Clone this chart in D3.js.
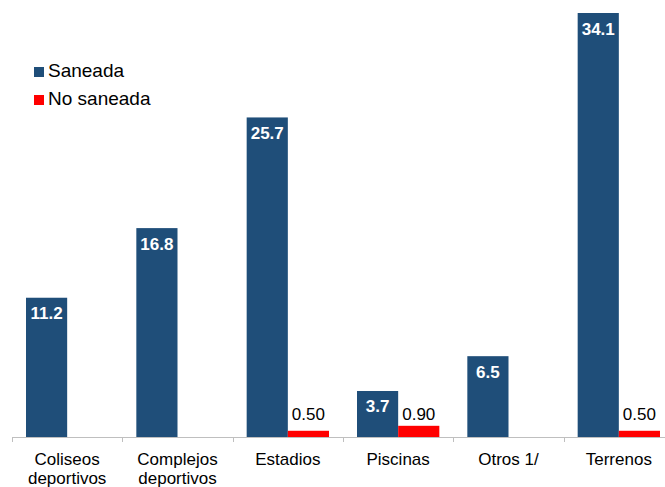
<!DOCTYPE html>
<html><head><meta charset="utf-8">
<script src="https://cdn.jsdelivr.net/npm/d3@7"></script>
<style>body{margin:0;background:#fff}svg{display:block}text{font-family:"Liberation Sans",Arial,sans-serif}</style>
</head><body><svg id="c" width="665" height="487"></svg>
<script>
const categories = [["Coliseos","deportivos"],["Complejos","deportivos"],["Estadios"],["Piscinas"],["Otros 1/"],["Terrenos"]];
const saneada = [11.2, 16.8, 25.7, 3.7, 6.5, 34.1];
const noSaneada = [null, null, 0.50, 0.90, null, 0.50];
const saneadaLabels = ["11.2","16.8","25.7","3.7","6.5","34.1"];
const noSaneadaLabels = [null,null,"0.50","0.90",null,"0.50"];
const seriesNames = ["Saneada","No saneada"];
const colors = ["#1F4E79","#FF0000"];

const svg = d3.select("#c");
const x = d3.scaleBand().domain(d3.range(categories.length)).range([12, 674]).paddingInner(0).paddingOuter(0);
const y = d3.scaleLinear().domain([0, 34.1]).range([437, 13]);
const pad = 14, bw = (x.bandwidth() - 2*pad) / 2;

// axis
svg.append("line").attr("x1",12).attr("x2",665).attr("y1",437.5).attr("y2",437.5).attr("stroke","#bfbfbf");
d3.range(categories.length).forEach(i=>{
  const xx = Math.round(x(i))+0.5;
  svg.append("line").attr("x1",xx).attr("x2",xx).attr("y1",437).attr("y2",442).attr("stroke","#bfbfbf");
});

const g = svg.append("g");
saneada.forEach((v,i)=>{
  const x0 = x(i)+pad;
  g.append("rect").attr("x",x0).attr("y",y(v)).attr("width",bw).attr("height",y(0)-y(v)).attr("fill",colors[0]);
  g.append("text").attr("x",x0+bw/2).attr("y",y(v)+21.5).attr("text-anchor","middle").attr("fill","#fff")
    .attr("font-size",17).attr("font-weight","bold").text(saneadaLabels[i]);
});
noSaneada.forEach((v,i)=>{
  if(v==null) return;
  const x0 = x(i)+pad+bw;
  g.append("rect").attr("x",x0).attr("y",y(v)).attr("width",bw).attr("height",y(0)-y(v)).attr("fill",colors[1]);
  g.append("text").attr("x",x0+bw/2).attr("y",y(0)-17).attr("text-anchor","middle").attr("fill","#000")
    .attr("font-size",17).text(noSaneadaLabels[i]);
});

// category labels
categories.forEach((lines,i)=>{
  const cx = x(i)+x.bandwidth()/2;
  const t = svg.append("text").attr("x",cx).attr("y",465).attr("text-anchor","middle")
    .attr("font-size",17).attr("fill","#000");
  lines.forEach((l,j)=>t.append("tspan").attr("x",cx).attr("dy",j?18.5:0).text(l));
});

// legend
seriesNames.forEach((n,i)=>{
  const yy = 67 + i*28;
  svg.append("rect").attr("x",34).attr("y",yy).attr("width",10).attr("height",10).attr("fill",colors[i]);
  svg.append("text").attr("x",48).attr("y",yy+10).attr("font-size",19).attr("fill","#000").text(n);
});
</script></body></html>
